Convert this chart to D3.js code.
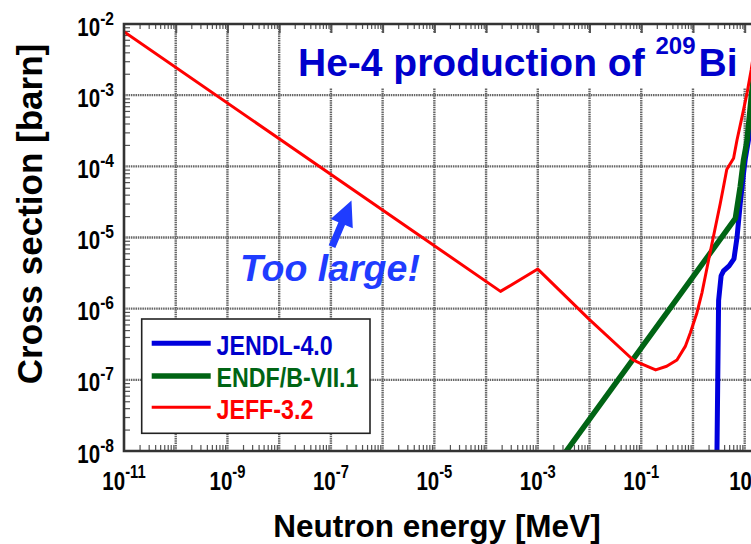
<!DOCTYPE html>
<html>
<head>
<meta charset="utf-8">
<script src="https://cdn.jsdelivr.net/npm/d3@7"></script>
<style>
  body { margin: 0; background: #fff; }
  svg { display: block; font-family: "Liberation Sans", Arial, sans-serif; }
</style>
</head>
<body>
<svg id="chart" width="751" height="544"></svg>
<script>
// He-4 production cross section of Bi-209 from three evaluated libraries
const seriesNames = ["JENDL-4.0", "ENDF/B-VII.1", "JEFF-3.2"];
const seriesColors = ["#0000dd", "#006414", "#ff0000"];
const seriesWidths = [5, 5.5, 3];

// energy [MeV] / cross section [barn]
const jendlEnergy = [2.90, 3.13, 3.5, 3.9, 5.0, 6.2, 7.1, 8.2, 9.5, 10.3, 13.4, 15];
const jendlXs     = [8e-9, 1.3e-6, 2.9e-6, 3.4e-6, 4.0e-6, 5.0e-6, 1.0e-5, 3.0e-5, 8e-5, 1.3e-4, 4e-4, 7e-4];

const endfEnergy = [3.0e-3, 6.6, 8.2, 9.5, 11.1, 13.4, 15];
const endfXs     = [8.4e-9, 1.85e-5, 5.2e-5, 1.23e-4, 2.3e-4, 9.5e-4, 2e-3];

const jeffEnergy = [1e-11, 1.9e-4, 1.0e-3, 1.0e-2, 0.07, 0.096, 0.19, 0.31, 0.49, 0.71, 0.89, 1.19,
                    1.5, 2.0, 2.5, 3.37, 3.9, 4.5, 6.1, 7.1, 8.9, 11.1, 13.4, 15];
const jeffXs     = [7.8e-3, 1.75e-6, 3.6e-6, 7.0e-7, 1.9e-7, 1.7e-7, 1.38e-7, 1.55e-7, 1.9e-7, 2.95e-7, 4.6e-7, 8.7e-7,
                    1.7e-6, 4.8e-6, 1.05e-5, 3.0e-5, 5.2e-5, 9e-5, 1.3e-4, 2.34e-4, 5e-4, 1.07e-3, 2.3e-3, 4e-3];

const xTickExponents = [-11, -9, -7, -5, -3, -1, 1];
const yTickExponents = [-8, -7, -6, -5, -4, -3, -2];

const titleText = "He-4 production of ";
const titleSup = "209";
const titleTail = "Bi";
const xAxisTitle = "Neutron energy [MeV]";
const yAxisTitle = "Cross section [barn]";
const noteText = "Too large!";
// arrow of the note, in data coordinates [energy, cross section]
const noteArrowTail = [1.05e-7, 7.45e-6];
const noteArrowTip = [2.5e-7, 3.3e-5];

const svg = d3.select("#chart");
const plotLeft = 124, plotTop = 24, plotBottom = 451, plotRight = 760;

const x = d3.scaleLog().domain([1e-11, 10]).range([plotLeft, 744.7]);
const y = d3.scaleLog().domain([1e-8, 1e-2]).range([plotBottom, plotTop]);

svg.append("defs").append("clipPath").attr("id", "plotClip")
  .append("rect").attr("x", plotLeft).attr("y", plotTop)
  .attr("width", plotRight - plotLeft).attr("height", plotBottom - plotTop);

// grid
const grid = svg.append("g").attr("stroke", "#666").attr("stroke-width", 2.4)
  .attr("stroke-dasharray", "1.5,0.8");
const xDecades = d3.range(-10, 2).map(e => Math.pow(10, e));
const yDecades = d3.range(-7, -2).map(e => Math.pow(10, e));
grid.selectAll("line.v").data(xDecades).join("line").attr("class", "v")
  .attr("x1", d => x(d)).attr("x2", d => x(d)).attr("y1", plotTop).attr("y2", plotBottom);
grid.selectAll("line.h").data(yDecades).join("line").attr("class", "h")
  .attr("x1", plotLeft).attr("x2", plotRight).attr("y1", d => y(d)).attr("y2", d => y(d));

// minor ticks
const xWide = x.copy().domain([1e-11, 20]).range([plotLeft, x(20)]);
const isDecade = v => Math.abs(Math.log10(v) - Math.round(Math.log10(v))) < 1e-6;
const xMinor = xWide.ticks(200).filter(v => !isDecade(v));
const yMinor = y.ticks(100).filter(v => !isDecade(v));
const minorStyle = g => {
  g.select(".domain").remove();
  g.selectAll("line").attr("stroke", "#555").attr("stroke-width", 1.2);
};
svg.append("g").attr("transform", `translate(0,${plotBottom})`)
  .call(d3.axisBottom(xWide).tickValues(xMinor).tickSize(-6).tickFormat(""))
  .call(minorStyle);
svg.append("g").attr("transform", `translate(0,${plotTop})`)
  .call(d3.axisTop(xWide).tickValues(xMinor).tickSize(-5).tickFormat(""))
  .call(minorStyle);
svg.append("g").attr("transform", `translate(${plotLeft},0)`)
  .call(d3.axisLeft(y).tickValues(yMinor).tickSize(-6).tickFormat(""))
  .call(minorStyle);

// title box and title
svg.append("rect").attr("x", 292).attr("y", 33).attr("width", 460).attr("height", 55).attr("fill", "#fff");
svg.append("g").attr("transform", `translate(0,${plotTop})`)
  .call(d3.axisTop(xWide).tickValues(xDecades).tickSize(-9).tickFormat(""))
  .call(g => { g.select(".domain").remove(); g.selectAll("line").attr("stroke", "#555").attr("stroke-width", 2); });

const title = svg.append("text").attr("x", 298).attr("y", 76)
  .attr("font-size", 39).attr("font-weight", "bold").attr("fill", "#0000cc");
title.append("tspan").text(titleText);
title.append("tspan").attr("font-size", 24).attr("dy", -22.5).text(titleSup);
title.append("tspan").attr("dy", 22.5).attr("dx", 3).text(titleTail);

// data lines
const line = d3.line().x(d => x(d[0])).y(d => y(d[1]));
const series = [
  d3.zip(jendlEnergy, jendlXs),
  d3.zip(endfEnergy, endfXs),
  d3.zip(jeffEnergy, jeffXs)
];
svg.append("g").attr("clip-path", "url(#plotClip)")
  .selectAll("path").data(series).join("path")
  .attr("d", line).attr("fill", "none")
  .attr("stroke", (d, i) => seriesColors[i])
  .attr("stroke-width", (d, i) => seriesWidths[i])
  .attr("stroke-linejoin", "round");

// frame
svg.append("path")
  .attr("d", `M${plotRight},${plotTop}H${plotLeft}V${plotBottom}H${plotRight}`)
  .attr("fill", "none").attr("stroke", "#333").attr("stroke-width", 2.6);

// tick labels
const squeeze = 0.82;
svg.selectAll("text.xt").data(xTickExponents).join("text")
  .attr("class", "xt")
  .attr("transform", e => `translate(${x(Math.pow(10, e))},490) scale(${squeeze},1)`)
  .attr("text-anchor", "middle").attr("font-weight", "bold").attr("font-size", 25).attr("fill", "#000")
  .each(function (e) {
    const t = d3.select(this);
    t.append("tspan").text("10");
    t.append("tspan").attr("font-size", 18).attr("dy", -12).text(String(e));
  });
svg.selectAll("text.yt").data(yTickExponents).join("text")
  .attr("class", "yt")
  .attr("transform", e => `translate(114,${y(Math.pow(10, e)) + 11.5}) scale(${squeeze},1)`)
  .attr("text-anchor", "end").attr("font-weight", "bold").attr("font-size", 25).attr("fill", "#000")
  .each(function (e) {
    const t = d3.select(this);
    t.append("tspan").text("10");
    t.append("tspan").attr("font-size", 19).attr("dy", -11).text(String(e));
  });

// axis titles
svg.append("text").attr("x", 437).attr("y", 537).attr("text-anchor", "middle")
  .attr("font-size", 31.5).attr("font-weight", "bold").text(xAxisTitle);
svg.append("text").attr("transform", "translate(42,214) rotate(-90)").attr("text-anchor", "middle")
  .attr("font-size", 35).attr("font-weight", "bold").text(yAxisTitle);

// note with arrow
const noteColor = "#1f3cff";
svg.append("text").attr("x", 240).attr("y", 281)
  .attr("font-size", 37.5).attr("font-weight", "bold").attr("font-style", "italic")
  .attr("fill", noteColor).text(noteText);
{
  const tx = x(noteArrowTail[0]), ty = y(noteArrowTail[1]);
  const hx = x(noteArrowTip[0]), hy = y(noteArrowTip[1]);
  const len = Math.hypot(hx - tx, hy - ty);
  const ang = Math.atan2(hy - ty, hx - tx) * 180 / Math.PI;
  const headLen = 25, headHalf = 12, shaftHalf = 3.6;
  svg.append("path")
    .attr("transform", `translate(${tx},${ty}) rotate(${ang})`)
    .attr("d", `M0,${-shaftHalf}L${len - headLen},${-shaftHalf}L${len - headLen},${-headHalf}L${len},0L${len - headLen},${headHalf}L${len - headLen},${shaftHalf}L0,${shaftHalf}Z`)
    .attr("fill", noteColor);
}

// legend
const lg = svg.append("g");
lg.append("rect").attr("x", 141.7).attr("y", 319).attr("width", 228.3).attr("height", 114.3)
  .attr("fill", "#fff").attr("stroke", "#222").attr("stroke-width", 1.6);
const rowY = [343.3, 376, 407.3];
seriesNames.forEach((name, i) => {
  lg.append("line").attr("x1", 151.7).attr("x2", 210.7).attr("y1", rowY[i]).attr("y2", rowY[i])
    .attr("stroke", seriesColors[i]).attr("stroke-width", seriesWidths[i]);
  lg.append("text").attr("transform", `translate(216.5,${rowY[i] + 11.3}) scale(0.83,1)`)
    .attr("font-size", 28).attr("font-weight", "bold")
    .attr("fill", i === 0 ? "#0000cc" : seriesColors[i]).text(name);
});
</script>
</body>
</html>
